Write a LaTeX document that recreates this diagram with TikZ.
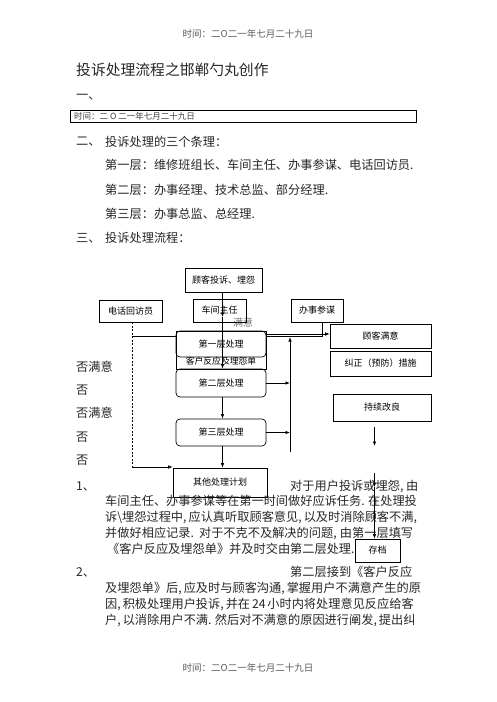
\documentclass[tikz,border=0pt]{standalone}
\usepackage{fontspec}
\setmainfont{Noto Sans CJK SC}
\usetikzlibrary{arrows.meta}
\XeTeXlinebreaklocale "zh"
\XeTeXlinebreakskip=0pt plus 2pt minus 0.6pt
\newcommand{\jline}[1]{\makebox[308pt][s]{#1}}
\begin{document}
\begin{tikzpicture}[x=1pt, y=-1pt,
    box/.style={draw, line width=0.7pt, inner sep=0pt, font=\fontsize{9}{11}\selectfont},
    tierbox/.style={box, rounded corners=4pt, minimum width=90pt},
    txt/.style={anchor=west, inner sep=0pt, text=black!85, font=\fontsize{12.2}{14}\selectfont},
    stamp/.style={inner sep=0pt, text=black!65, font=\fontsize{9.5}{11}\selectfont},
    arr/.style={-{Latex[length=4.5pt,width=3.5pt]}, line width=0.7pt},
    link/.style={line width=0.7pt}]
    \useasboundingbox (0,0) rectangle (496,702);
    % page head
    \node[stamp] (head) at (248,34) {时间：二O二一年七月二十九日};
    \node[txt, font=\fontsize{14.8}{17}\selectfont] (title) at (76,70) {投诉处理流程之邯郸勺丸创作};
    \node[txt] (sec1) at (76,97) {一、};
    \node[draw, line width=0.9pt, minimum width=346pt, minimum height=12pt, inner sep=0pt] (timebar) at (243,116) {};
    \node[txt, text=black!75, font=\fontsize{8.5}{10}\selectfont] (timetxt) at (74,116) {时间：二 O 二一年七月二十九日};
    \node[txt] (sec2) at (76,142) {二、};
    \node[txt] (sec2t) at (105,142) {投诉处理的三个条理：};
    \node[txt] (lv1) at (105,165) {第一层：维修班组长、车间主任、办事参谋、电话回访员.};
    \node[txt] (lv2) at (105,190) {第二层：办事经理、技术总监、部分经理.};
    \node[txt] (lv3) at (105,214) {第三层：办事总监、总经理.};
    \node[txt] (sec3) at (76,238) {三、};
    \node[txt] (sec3t) at (105,238) {投诉处理流程：};
    % flow chart
    \node[text=black!55, inner sep=0pt, font=\fontsize{10}{11}\selectfont] (ok) at (243,323) {满意};
    \node[box, minimum width=77pt, minimum height=24pt] (complain) at (223.5,280) {顾客投诉、埋怨};
    \node[box, minimum width=63pt, minimum height=22pt] (phone) at (130.5,311) {电话回访员};
    \node[box, minimum width=53pt, minimum height=23pt] (workshop) at (219.5,310.5) {车间主任};
    \node[box, minimum width=52pt, minimum height=23pt] (staff) at (317,310.5) {办事参谋};
    \node[box, minimum width=101pt, minimum height=24pt] (satisfied) at (380.5,336) {顾客满意};
    \node[box, minimum width=101pt, minimum height=25pt] (correct) at (380.5,363.5) {纠正（预防）措施};
    \node[box, minimum width=98pt, minimum height=27pt] (improve) at (382,407.5) {持续改良};
    \node[box, minimum width=90pt, minimum height=38pt] (form) at (221,350) {};
    \node[inner sep=0pt, font=\fontsize{8.8}{10}\selectfont] (formtxt) at (221,361) {客户反应及埋怨单};
    \node[tierbox, minimum height=26pt] (tier1) at (221,344) {第一层处理};
    \node[tierbox, minimum height=28pt] (tier2) at (221,383) {第二层处理};
    \node[tierbox, minimum height=27pt] (tier3) at (221,432.5) {第三层处理};
    \node[box, minimum width=94pt, minimum height=29pt] (plan) at (220,482.5) {其他处理计划};
    \coordinate (wsTip) at (222.5,317);
    \draw[arr] (complain.south -| wsTip) -- (wsTip);
    \draw[arr] (wsTip) -- (wsTip |- tier2.north);
    \draw[arr] (tier2.south -| wsTip) -- (tier3.north -| wsTip);
    \draw[arr] (tier3.south -| wsTip) -- (plan.north -| wsTip);
    \coordinate (phoneBend) at (132,467);
    \coordinate (phoneJoin) at (132,336);
    \draw[link, dash pattern=on 2pt off 1.5pt] (phone.south -| phoneBend) -- (phoneBend);
    \draw[arr] (phoneBend) -- (phoneBend -| plan.west);
    \draw[link] (phoneJoin) -- (phoneJoin -| tier1.west);
    \coordinate (fbTop) at (290,337);
    \coordinate (fbBot) at (290,452);
    \draw[arr] (fbBot) -- (fbTop);
    \draw[arr] (tier2.east) -- (tier2.east -| fbBot);
    \draw[arr] (tier3.east) -- (tier3.east -| fbBot);
    \coordinate (t1out) at (266,334);
    \draw[arr] (t1out) -- (t1out -| satisfied.west);
    \coordinate (staffBend) at (322,336.5);
    \draw[link] (staff.south -| staffBend) -- (staffBend) -- (staffBend -| tier1.east);
    \coordinate (impStart) at (374.5,427);
    \coordinate (impA) at (374.5,446);
    \coordinate (impB) at (374.5,473);
    \coordinate (impC) at (374.5,487);
    \draw[arr] (impStart) -- (impA);
    \draw[arr] (impB) -- (impC);
    % left notes
    \node[txt] (n1) at (76,367) {否满意};
    \node[txt] (n2) at (76,390) {否};
    \node[txt] (n3) at (76,413) {否满意};
    \node[txt] (n4) at (76,437) {否};
    \node[txt] (n5) at (76,460) {否};
    % body text
    \node[txt] (item1) at (76,486) {1、};
    \node[txt] (p1a) at (290,486) {对于用户投诉或埋怨, 由};
    \node[txt] (p1b) at (105,501) {\jline{车间主任、办事参谋等在第一时间做好应诉任务. 在处理投}};
    \node[txt] (p1c) at (105,517) {\jline{诉\textbackslash 埋怨过程中, 应认真听取顾客意见, 以及时消除顾客不满,}};
    \node[txt] (p1d) at (105,533) {\jline{并做好相应记录. 对于不克不及解决的问题, 由第一层填写}};
    \node[txt] (p1e) at (107,549) {《客户反应及埋怨单》并及时交由第二层处理.};
    \node[txt] (item2) at (76,572) {2、};
    \node[txt] (p2a) at (290,572) {第二层接到《客户反应};
    \node[txt] (p2b) at (105,588) {\jline{及埋怨单》后, 应及时与顾客沟通, 掌握用户不满意产生的原}};
    \node[txt] (p2c) at (105,604) {\jline{因, 积极处理用户投诉, 并在 24 小时内将处理意见反应给客}};
    \node[txt] (p2d) at (105,620) {\jline{户, 以消除用户不满. 然后对不满意的原因进行阐发, 提出纠}};
    \node[box, fill=white, minimum width=45pt, minimum height=23pt] (archive) at (377.5,550.5) {存档};
    \draw[arr] (impC) -- (impC |- archive.north);
    % page foot
    \node[stamp] (foot) at (248,668) {时间：二O二一年七月二十九日};
\end{tikzpicture}
\end{document}
